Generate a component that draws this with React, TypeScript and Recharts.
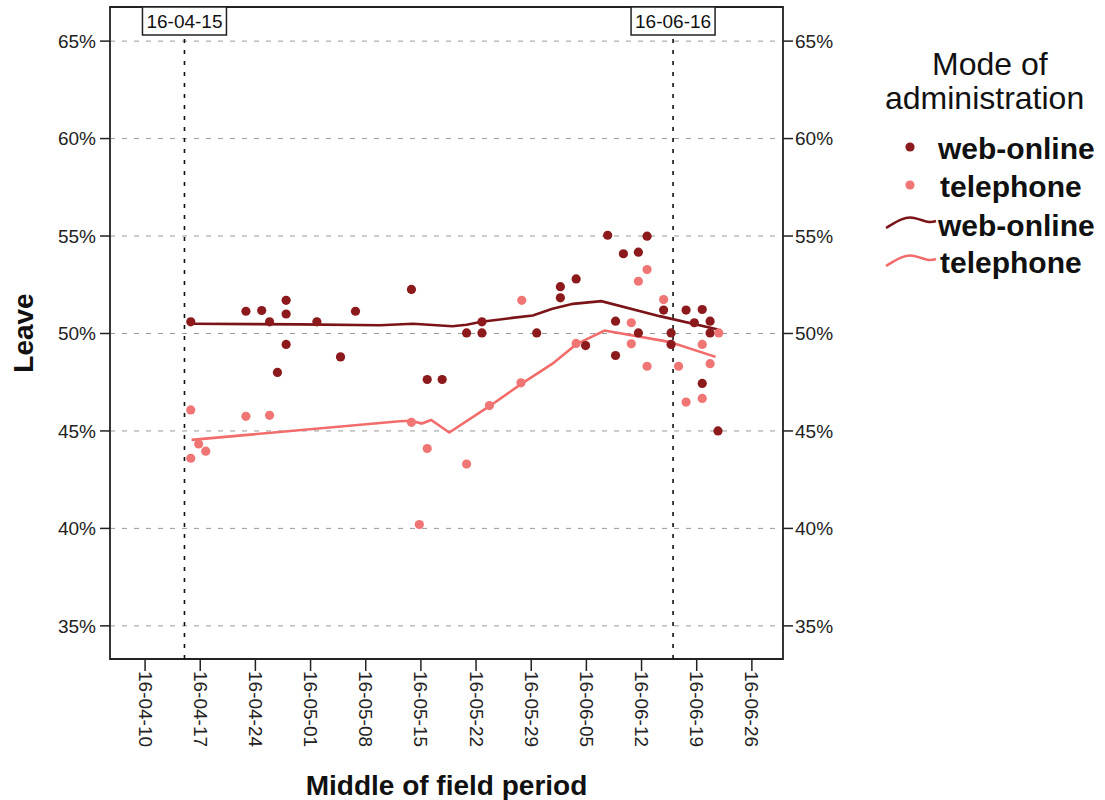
import React from 'react';
import {
  ComposedChart, Scatter, Line, XAxis, YAxis, CartesianGrid,
  ReferenceLine, ReferenceArea,
} from 'recharts';

// days counted from 2016-04-10, value = share "Leave" in %
const webPoints = [
  { day: 5.8, pct: 50.6 }, { day: 12.8, pct: 51.14 }, { day: 14.8, pct: 51.18 },
  { day: 15.8, pct: 50.6 }, { day: 16.8, pct: 48.0 }, { day: 17.9, pct: 51.7 },
  { day: 17.9, pct: 51.0 }, { day: 17.9, pct: 49.44 }, { day: 21.8, pct: 50.6 },
  { day: 24.8, pct: 48.8 }, { day: 26.7, pct: 51.14 }, { day: 33.8, pct: 52.26 },
  { day: 35.8, pct: 47.64 }, { day: 37.7, pct: 47.64 }, { day: 40.8, pct: 50.03 },
  { day: 42.75, pct: 50.03 }, { day: 42.75, pct: 50.6 }, { day: 49.7, pct: 50.03 },
  { day: 52.7, pct: 52.4 }, { day: 52.7, pct: 51.83 }, { day: 54.7, pct: 52.8 },
  { day: 55.9, pct: 49.38 }, { day: 58.7, pct: 55.04 }, { day: 59.7, pct: 50.63 },
  { day: 59.7, pct: 48.87 }, { day: 60.7, pct: 54.09 }, { day: 62.6, pct: 54.17 },
  { day: 62.6, pct: 50.03 }, { day: 63.7, pct: 54.99 }, { day: 65.8, pct: 51.2 },
  { day: 66.75, pct: 50.03 }, { day: 66.75, pct: 49.44 }, { day: 68.65, pct: 51.2 },
  { day: 69.7, pct: 50.55 }, { day: 70.7, pct: 51.23 }, { day: 70.7, pct: 47.44 },
  { day: 71.7, pct: 50.63 }, { day: 71.7, pct: 50.03 }, { day: 72.7, pct: 45.0 },
];

const telPoints = [
  { day: 5.8, pct: 46.08 }, { day: 5.8, pct: 43.6 }, { day: 6.8, pct: 44.33 },
  { day: 7.7, pct: 43.96 }, { day: 12.8, pct: 45.75 }, { day: 15.8, pct: 45.8 },
  { day: 33.8, pct: 45.44 }, { day: 34.8, pct: 40.2 }, { day: 35.8, pct: 44.1 },
  { day: 40.8, pct: 43.3 }, { day: 43.7, pct: 46.3 }, { day: 47.7, pct: 47.47 },
  { day: 47.8, pct: 51.7 }, { day: 54.7, pct: 49.49 }, { day: 61.7, pct: 50.55 },
  { day: 61.7, pct: 49.47 }, { day: 62.6, pct: 52.68 }, { day: 63.7, pct: 53.28 },
  { day: 63.7, pct: 48.32 }, { day: 65.8, pct: 51.74 }, { day: 67.7, pct: 48.32 },
  { day: 68.65, pct: 46.48 }, { day: 70.7, pct: 46.67 }, { day: 70.7, pct: 49.44 },
  { day: 71.7, pct: 48.45 }, { day: 72.8, pct: 50.03 },
];

// fitted (loess) lines
const webFit = [
  { day: 5.9, pct: 50.5 }, { day: 19.6, pct: 50.47 }, { day: 29.8, pct: 50.42 },
  { day: 34.0, pct: 50.5 }, { day: 39.0, pct: 50.37 }, { day: 40.8, pct: 50.45 },
  { day: 42.7, pct: 50.6 }, { day: 46.6, pct: 50.8 }, { day: 49.2, pct: 50.92 },
  { day: 51.7, pct: 51.27 }, { day: 54.3, pct: 51.52 }, { day: 57.9, pct: 51.66 },
  { day: 65.3, pct: 50.89 }, { day: 72.7, pct: 50.2 },
];

const telFit = [
  { day: 5.9, pct: 44.54 }, { day: 32.3, pct: 45.5 }, { day: 33.8, pct: 45.52 },
  { day: 35.1, pct: 45.38 }, { day: 36.3, pct: 45.56 }, { day: 38.6, pct: 44.92 },
  { day: 43.7, pct: 46.27 }, { day: 47.7, pct: 47.4 }, { day: 51.7, pct: 48.45 },
  { day: 54.7, pct: 49.44 }, { day: 58.3, pct: 50.15 }, { day: 66.5, pct: 49.57 },
  { day: 72.4, pct: 48.8 },
];

const xTicks = [0, 7, 14, 21, 28, 35, 42, 49, 56, 63, 70, 77];
const xTickLabels = [
  '16-04-10', '16-04-17', '16-04-24', '16-05-01', '16-05-08', '16-05-15',
  '16-05-22', '16-05-29', '16-06-05', '16-06-12', '16-06-19', '16-06-26',
];
const yTicks = [35, 40, 45, 50, 55, 60, 65];
const refDays = [5, 67];
const refLabels = ['16-04-15', '16-06-16'];

const X_DOMAIN: [number, number] = [-4.45, 80.95];
const Y_DOMAIN: [number, number] = [33.3, 66.75];

const FONT = "'Liberation Sans', Arial, sans-serif";
const WEB_DOT = '#8c1a1d';
const TEL_DOT = '#f07676';
const WEB_LINE = '#7a1418';
const TEL_LINE = '#f26c6c';

function dot(color: string) {
  return (p: any) => <circle cx={p.cx} cy={p.cy} r={4.6} fill={color} />;
}

function XTick({ x, y, payload }: any) {
  const i = xTicks.indexOf(payload.value);
  return (
    <text x={x} y={y} transform={`rotate(90 ${x} ${y})`}
      textAnchor="start" dominantBaseline="central"
      fontFamily={FONT} fontSize={19} fill="#222">
      {xTickLabels[i]}
    </text>
  );
}

function RefTag({ viewBox, text }: any) {
  const cx = viewBox.x;
  const top = viewBox.y;
  return (
    <g>
      <rect x={cx - 42} y={top} width={84} height={28} fill="#fff" stroke="#222" strokeWidth={1.5} />
      <text x={cx} y={top + 21} textAnchor="middle" fontFamily={FONT} fontSize={19} fill="#111">{text}</text>
    </g>
  );
}

function Legend() {
  return (
    <svg width={1105} height={300} style={{ position: 'absolute', left: 0, top: 0, pointerEvents: 'none' }}>
      <text x={932} y={75} fontFamily={FONT} fontSize={32} fill="#111">Mode of</text>
      <text x={885} y={109} fontFamily={FONT} fontSize={32} fill="#111">administration</text>
      <circle cx={910} cy={147} r={4.6} fill={WEB_DOT} />
      <text x={938} y={159} fontFamily={FONT} fontSize={30} fontWeight="bold" fill="#111">web-online</text>
      <circle cx={910} cy={185} r={4.6} fill={TEL_DOT} />
      <text x={940} y={197} fontFamily={FONT} fontSize={30} fontWeight="bold" fill="#111">telephone</text>
      <path d="M886,228 C896,222 904,216 914,218 S928,224 936,221" fill="none" stroke={WEB_LINE} strokeWidth={2.5} />
      <text x={938} y={236} fontFamily={FONT} fontSize={30} fontWeight="bold" fill="#111">web-online</text>
      <path d="M886,266 C896,260 904,254 914,256 S928,262 936,259" fill="none" stroke={TEL_LINE} strokeWidth={2.5} />
      <text x={940} y={273} fontFamily={FONT} fontSize={30} fontWeight="bold" fill="#111">telephone</text>
    </svg>
  );
}

export default function App() {
  return (
    <div style={{ position: 'absolute', left: 0, top: 0, width: 1105, height: 800, background: '#fff' }}>
      <ComposedChart width={1105} height={800} margin={{ top: 7, right: 262, bottom: 0, left: 0 }}>
        <CartesianGrid yAxisId="left" horizontal vertical={false} stroke="#9a9a9a" strokeDasharray="5 7" />
        <XAxis dataKey="day" type="number" domain={X_DOMAIN} ticks={xTicks} allowDataOverflow
          height={141} tickSize={12} tickMargin={0} axisLine={false}
          tickLine={{ stroke: '#222', strokeWidth: 1.5 }} tick={<XTick />} interval={0}
          label={({ viewBox }: any) => (
            <text x={viewBox.x + viewBox.width / 2} y={viewBox.y + viewBox.height - 5}
              textAnchor="middle" fontFamily={FONT} fontSize={28} fontWeight="bold" fill="#111">
              Middle of field period
            </text>
          )} />
        <YAxis yAxisId="left" dataKey="pct" type="number" domain={Y_DOMAIN} ticks={yTicks} allowDataOverflow
          width={110} tickSize={10} tickMargin={4} axisLine={false}
          tickLine={{ stroke: '#222', strokeWidth: 1.5 }}
          tick={{ fontFamily: FONT, fontSize: 19, fill: '#222' }}
          tickFormatter={(v: number) => `${v}%`}
          label={({ viewBox }: any) => {
            const cx = viewBox.x + 23;
            const cy = viewBox.y + viewBox.height / 2;
            return (
              <text x={cx} y={cy} transform={`rotate(-90 ${cx} ${cy})`} textAnchor="middle"
                dominantBaseline="central" fontFamily={FONT} fontSize={28} fontWeight="bold" fill="#111">
                Leave
              </text>
            );
          }} />
        <YAxis yAxisId="right" orientation="right" type="number" domain={Y_DOMAIN} ticks={yTicks} allowDataOverflow
          width={60} tickSize={10} tickMargin={2} axisLine={false}
          tickLine={{ stroke: '#222', strokeWidth: 1.5 }}
          tick={{ fontFamily: FONT, fontSize: 19, fill: '#222' }}
          tickFormatter={(v: number) => `${v}%`} />

        {refDays.map((d, i) => (
          <ReferenceLine key={d} yAxisId="left" x={d} stroke="#111" strokeWidth={1.6}
            strokeDasharray="4 7" ifOverflow="visible"
            label={<RefTag text={refLabels[i]} />} />
        ))}

        <Scatter yAxisId="left" name="web-online" data={webPoints} dataKey="pct"
          shape={dot(WEB_DOT)} isAnimationActive={false} />
        <Scatter yAxisId="left" name="telephone" data={telPoints} dataKey="pct"
          shape={dot(TEL_DOT)} isAnimationActive={false} />
        <Line yAxisId="left" data={webFit} dataKey="pct" type="linear" stroke={WEB_LINE}
          strokeWidth={2.6} dot={false} activeDot={false} isAnimationActive={false} />
        <Line yAxisId="left" data={telFit} dataKey="pct" type="linear" stroke={TEL_LINE}
          strokeWidth={2.6} dot={false} activeDot={false} isAnimationActive={false} />

        <ReferenceArea yAxisId="right" x1={X_DOMAIN[0]} x2={X_DOMAIN[1]} y1={Y_DOMAIN[0]} y2={Y_DOMAIN[1]}
          fill="none" stroke="#222" strokeWidth={1.8} ifOverflow="visible" />
      </ComposedChart>
      <Legend />
    </div>
  );
}
